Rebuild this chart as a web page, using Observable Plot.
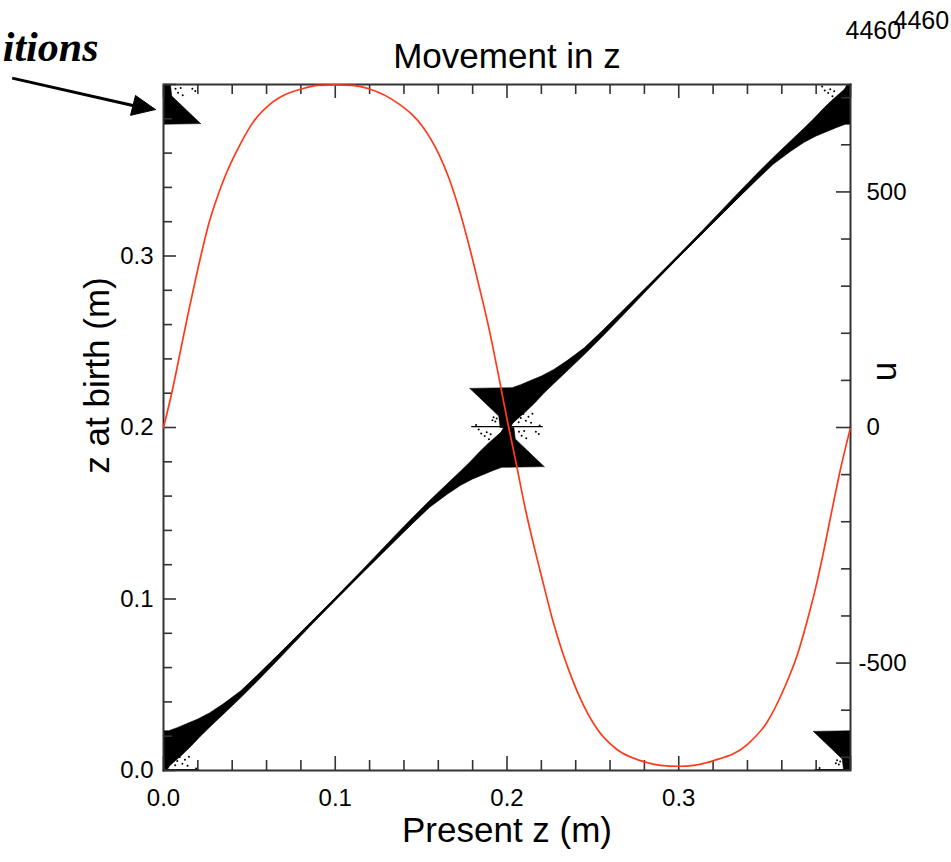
<!DOCTYPE html>
<html><head><meta charset="utf-8">
<script src="https://cdn.jsdelivr.net/npm/d3@7"></script>
<script src="https://cdn.jsdelivr.net/npm/@observablehq/plot@0.6"></script>
<style>
html,body{margin:0;padding:0;background:#fff;}
#wrap{position:relative;width:951px;height:862px;overflow:hidden;}
#wrap svg{position:absolute;left:0;top:0;}
</style></head><body><div id="wrap"></div>
<script>
// ---------- data ----------
const xMajorTicks = [0, 0.1, 0.2, 0.3, 0.4];
const xMinorTicks = [0.02,0.04,0.06,0.08,0.12,0.14,0.16,0.18,0.22,0.24,0.26,0.28,0.32,0.34,0.36,0.38];
const xTickValues = [0, 0.1, 0.2, 0.3];
const xTickLabels = ["0.0", "0.1", "0.2", "0.3"];
const yTickValues = [0, 0.1, 0.2, 0.3];
const yTickLabels = ["0.0", "0.1", "0.2", "0.3"];
const uMajorTicks = [-500, 0, 500];
const uMinorTicks = [-700,-600,-400,-300,-200,-100,100,200,300,400,600,700];
const uTickValues = [-500, 0, 500];
const uTickLabels = ["-500", "0", "500"];

// red curve: u versus present z
const presentZ = [0,0.0051,0.0099,0.0147,0.0196,0.0264,0.0342,0.0458,0.0516,0.0633,0.0808,0.0903,0.1000,0.1099,0.1195,0.1370,0.1448,0.1506,0.1603,0.1661,0.1719,0.1778,0.1836,0.1894,0.1952,0.2000,0.2049,0.2108,0.2166,0.2214,0.2263,0.2321,0.2360,0.2418,0.2525,0.2642,0.2777,0.2894,0.3000,0.3088,0.3204,0.3399,0.3515,0.3612,0.3690,0.3748,0.3796,0.3835,0.3884,0.3942,0.4000];
const uValues = [0,78,163,248,330,433,518,609,645,690,719,726,727,726,719,687,664,640,580,530,466,388,302,212,108,18,-68,-175,-265,-335,-405,-475,-515,-568,-640,-684,-707,-717,-719,-717,-707,-673,-625,-555,-483,-410,-342,-278,-190,-88,0];

// particle map: bow-tie centres (present z, z at birth)
const bowtieCenters = [[0,0],[0.2,0.2],[0.4,0.4],[0,0.4],[0.4,0]];
// upper half of a bow-tie (offsets from centre)
const upperHalf = [[-0.0216,0.0228],[0.003,0.0232],[0.008,0.0250],[0.014,0.0275],[0.020,0.0300],[0.027,0.0337],[0.035,0.0390],[0.045,0.0465],[0.055,0.0560],[0.065,0.0657],[0.075,0.0756],[0.085,0.0855],[0.100,0.1005],[0.115,0.1154],
  [0.115,0.1146],[0.100,0.0993],[0.085,0.0838],[0.075,0.0733],[0.065,0.0628],[0.055,0.0525],[0.045,0.0425],[0.035,0.0330],[0.027,0.0254],[0.0213,0.0198],
  [0.016,0.0142],[0.011,0.0093],[0.007,0.0058],[0.0035,0.0028],[0.002,0],[-0.004,0],[-0.0048,0.0067],[-0.0216,0.0228]];
// lower half of a bow-tie (offsets from centre)
const lowerHalf = [[0.0216,-0.0228],[-0.003,-0.0232],[-0.008,-0.0250],[-0.014,-0.0275],[-0.020,-0.0300],[-0.027,-0.0337],[-0.035,-0.0390],[-0.045,-0.0465],[-0.055,-0.0560],[-0.065,-0.0657],[-0.075,-0.0756],[-0.085,-0.0855],[-0.100,-0.1005],[-0.115,-0.1154],
  [-0.115,-0.1146],[-0.100,-0.0993],[-0.085,-0.0838],[-0.075,-0.0733],[-0.065,-0.0628],[-0.055,-0.0525],[-0.045,-0.0425],[-0.035,-0.0330],[-0.027,-0.0254],[-0.0213,-0.0198],
  [-0.016,-0.0142],[-0.011,-0.0093],[-0.007,-0.0058],[-0.0035,-0.0028],[-0.002,0],[0.004,0],[0.0048,-0.0067],[0.0216,-0.0228]];
const slitOffsets = [[-0.0205,0.0005],[0.0205,0.0005]];
const speckleOffsets = [[-0.0165,-0.0012],[-0.0150,-0.0035],[-0.0130,-0.0050],[-0.0118,-0.0028],[-0.0105,-0.0068],[-0.0095,-0.0040],[-0.0085,0.0042],[-0.0078,0.0060],[-0.0068,0.0035],[-0.0060,0.0052],[-0.0072,-0.0085],[-0.0062,-0.0105],[-0.0180,0.0015],
  [0.0068,0.0030],[0.0080,0.0055],[0.0095,0.0078],[0.0110,0.0040],[0.0125,0.0062],[0.0140,0.0028],[0.0148,0.0080],[0.0070,-0.0025],[0.0085,-0.0048],[0.0100,-0.0020],[0.0112,-0.0062],[0.0168,-0.0025],[0.0185,-0.0038],[0.0190,0.0012]];
const diagonal = [[0,0],[0.4,0.4]];

// annotation arrow (data coordinates, outside the frame)
const arrowShaft = [{x1:-0.0881, y1:0.4037, x2:-0.0178, y2:0.3878}];
const arrowHead = [[-0.0047,0.3854],[-0.0192,0.3820],[-0.0163,0.3936],[-0.0047,0.3854]];

// ---------- build tables ----------
const shapes = [];
bowtieCenters.forEach(([cx,cy],i) => {
  [upperHalf, lowerHalf].forEach((half,j) => half.forEach(([dx,dy]) => shapes.push({id:`${i}-${j}`, x:cx+dx, y:cy+dy})));
});
const slits = [];
bowtieCenters.forEach(([cx,cy],i) => slitOffsets.forEach(([dx,dy]) => slits.push({id:i, x:cx+dx, y:cy+dy})));
const speckles = [];
bowtieCenters.forEach(([cx,cy]) => speckleOffsets.forEach(([dx,dy]) => speckles.push({x:cx+dx, y:cy+dy})));
const redCurve = presentZ.map((z,i) => ({z, u:uValues[i]}));
const xLab = new Map(xTickValues.map((v,i)=>[v,xTickLabels[i]]));
const yLab = new Map(yTickValues.map((v,i)=>[v,yTickLabels[i]]));
const uLabels = uTickValues.map((v,i)=>({u:v, label:uTickLabels[i]}));

const W = 951, H = 862;
const M = {marginTop:84, marginBottom:92, marginLeft:163, marginRight:101};
const sans = "'Liberation Sans', Arial, Helvetica, sans-serif";
const axisColor = "#333";

const plot1 = Plot.plot({
  width: W, height: H, ...M,
  style: {fontFamily: sans, background: "white", color: "#000"},
  x: {domain: [0, 0.4], axis: null},
  y: {domain: [0, 0.4], axis: null},
  marks: [
    Plot.line(shapes, {x:"x", y:"y", z:"id", fill:"#000", stroke:"#000", strokeWidth:0.6, clip:true}),
    Plot.line(diagonal, {x:d=>d[0], y:d=>d[1], stroke:"#000", strokeWidth:2.2}),
    Plot.line(slits, {x:"x", y:"y", z:"id", stroke:"#000", strokeWidth:1.4, clip:true}),
    Plot.dot(speckles, {x:"x", y:"y", r:1, fill:"#000", clip:true}),
    Plot.frame({stroke: axisColor, strokeWidth: 2}),
    // bottom ticks (inward)
    Plot.axisX({ticks: xMinorTicks, anchor:"bottom", tickSize:-10, tickFormat:()=>"", stroke:axisColor, strokeWidth:1.6, label:null}),
    Plot.axisX({ticks: xMajorTicks, anchor:"bottom", tickSize:-14, tickFormat:()=>"", stroke:axisColor, strokeWidth:1.6, label:null}),
    // top ticks (inward)
    Plot.axisX({ticks: xMinorTicks, anchor:"top", tickSize:-9, tickFormat:()=>"", stroke:axisColor, strokeWidth:1.6, label:null}),
    Plot.axisX({ticks: xMajorTicks, anchor:"top", tickSize:-13, tickFormat:()=>"", stroke:axisColor, strokeWidth:1.6, label:null}),
    // left ticks (inward)
    Plot.axisY({ticks: xMinorTicks, anchor:"left", tickSize:-9, tickFormat:()=>"", stroke:axisColor, strokeWidth:1.6, label:null}),
    Plot.axisY({ticks: xMajorTicks, anchor:"left", tickSize:-13, tickFormat:()=>"", stroke:axisColor, strokeWidth:1.6, label:null}),
    // tick labels
    Plot.axisX({ticks: xTickValues, anchor:"bottom", tickSize:0, tickPadding:18, tickFormat:d=>xLab.get(d), fontSize:24, fill:"#000", label:null}),
    Plot.axisY({ticks: yTickValues, anchor:"left", tickSize:0, tickPadding:10, tickFormat:d=>yLab.get(d), fontSize:24, fill:"#000", label:null}),
    // texts
    Plot.text(["Movement in z"], {frameAnchor:"top", dy:-17, lineAnchor:"bottom", fontSize:35, fill:"#000"}),
    Plot.text(["z at birth (m)"], {frameAnchor:"left", dx:-66, dy:-52, rotate:-90, textAnchor:"middle", fontSize:35, fill:"#000"}),
    Plot.text(["Present z (m)"], {frameAnchor:"bottom", dy:71, textAnchor:"middle", fontSize:35, fill:"#000"}),
    Plot.text(["4460"], {frameAnchor:"top-right", dx:-5, dy:-46, textAnchor:"start", lineAnchor:"bottom", fontSize:25, fill:"#000"}),
    Plot.text(["4460"], {frameAnchor:"top-right", dx:43, dy:-56, textAnchor:"start", lineAnchor:"bottom", fontSize:25, fill:"#000"}),
    Plot.text(["itions"], {frameAnchor:"top-left", dx:-65, dy:-24, textAnchor:"end", lineAnchor:"bottom", fontSize:42, fontWeight:"bold", fontStyle:"italic", fontFamily:"'Liberation Serif', 'Times New Roman', serif", fill:"#000"}),
    Plot.link(arrowShaft, {x1:"x1", y1:"y1", x2:"x2", y2:"y2", stroke:"#000", strokeWidth:3}),
    Plot.line(arrowHead, {x:d=>d[0], y:d=>d[1], fill:"#000", stroke:"#000", strokeWidth:1})
  ]
});

const plot2 = Plot.plot({
  width: W, height: H, ...M,
  style: {fontFamily: sans, background: "transparent", color: "#000"},
  x: {domain: [0, 0.4], axis: null},
  y: {domain: [-728, 728], axis: null},
  marks: [
    Plot.line(redCurve, {x:"z", y:"u", stroke:"#ff3a1c", strokeWidth:1.7, curve:"monotone-x"}),
    Plot.axisY({ticks: uMinorTicks, anchor:"right", tickSize:-10, tickFormat:()=>"", stroke:axisColor, strokeWidth:1.6, label:null}),
    Plot.axisY({ticks: uMajorTicks, anchor:"right", tickSize:-15, tickFormat:()=>"", stroke:axisColor, strokeWidth:1.6, label:null}),
    Plot.text(uLabels.filter(d=>d.u>=0), {y:"u", text:"label", frameAnchor:"right", dx:16, textAnchor:"start", fontSize:24, fill:"#000"}),
    Plot.text(uLabels.filter(d=>d.u<0), {y:"u", text:"label", frameAnchor:"right", dx:8, textAnchor:"start", fontSize:24, fill:"#000"}),
    Plot.text(["u"], {frameAnchor:"right", dx:34, dy:-56, rotate:-90, textAnchor:"middle", fontSize:35, fill:"#000"})
  ]
});

const wrap = document.getElementById("wrap");
wrap.appendChild(plot1);
wrap.appendChild(plot2);
</script></body></html>
